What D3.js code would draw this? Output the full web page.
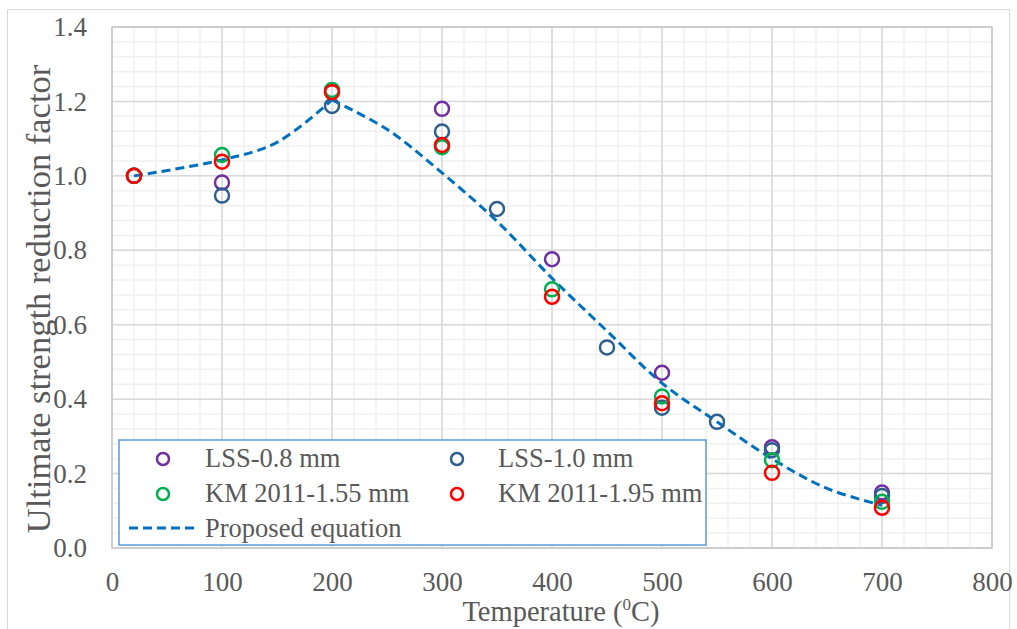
<!DOCTYPE html>
<html>
<head>
<meta charset="utf-8">
<script src="https://cdn.jsdelivr.net/npm/d3@7"></script>
<style>
  body { margin: 0; background: #fff; }
  text { font-family: "Liberation Serif", "Times New Roman", serif; fill: #595959; }
</style>
</head>
<body>
<div class="item"></div>
<script>
// data
var xTicks = [0, 100, 200, 300, 400, 500, 600, 700, 800];
var yTicks = [0, 0.2, 0.4, 0.6, 0.8, 1.0, 1.2, 1.4];

var lss08T = [20, 100, 300, 400, 500, 600, 700];
var lss08V = [1.0, 0.982, 1.18, 0.776, 0.471, 0.271, 0.149];

var lss10T = [20, 100, 200, 300, 350, 450, 500, 550, 600, 700];
var lss10V = [1.0, 0.947, 1.188, 1.119, 0.911, 0.539, 0.377, 0.339, 0.263, 0.140];

var km155T = [20, 100, 200, 300, 400, 500, 600, 700];
var km155V = [1.0, 1.056, 1.231, 1.077, 0.695, 0.407, 0.236, 0.124];

var km195T = [20, 100, 200, 300, 400, 500, 600, 700];
var km195V = [1.0, 1.038, 1.225, 1.083, 0.675, 0.389, 0.202, 0.108];

// proposed equation (dashed)
var eqT = [20, 100, 150, 200, 250, 300, 350, 400, 450, 500, 550, 600, 650, 700];
var eqV = [1.0, 1.043, 1.09, 1.204, 1.125, 1.008, 0.878, 0.725, 0.583, 0.443, 0.339, 0.240, 0.160, 0.115];

var seriesNames = ["LSS-0.8 mm", "LSS-1.0 mm", "KM 2011-1.55 mm", "KM 2011-1.95 mm"];
var seriesColors = ["#7030A0", "#2E5F8E", "#00B050", "#FF0000"];
var seriesT = [lss08T, lss10T, km155T, km195T];
var seriesV = [lss08V, lss10V, km155V, km195V];

var width = 1017, height = 629;
var pLeft = 112, pRight = 992, pTop = 27, pBottom = 548;

var svg = d3.select(".item").append("svg")
    .attr("width", width)
    .attr("height", height);

// outer chart border
svg.append("rect")
    .attr("x", 7.5).attr("y", 9.5)
    .attr("width", 1002).attr("height", 630)
    .style("fill", "#fff")
    .style("stroke", "#D9D9D9");

var x = d3.scaleLinear().domain([0, 800]).range([pLeft, pRight]);
var y = d3.scaleLinear().domain([0, 1.4]).range([pBottom, pTop]);

// minor grid
svg.append("g").selectAll("line")
    .data(d3.range(0, 801, 20))
    .enter().append("line")
    .attr("x1", function(d){ return x(d); }).attr("x2", function(d){ return x(d); })
    .attr("y1", pTop).attr("y2", pBottom)
    .style("stroke", "#F0F0F0").style("stroke-width", 1.5);
svg.append("g").selectAll("line")
    .data(d3.range(0, 1.4001, 0.04))
    .enter().append("line")
    .attr("x1", pLeft).attr("x2", pRight)
    .attr("y1", function(d){ return y(d); }).attr("y2", function(d){ return y(d); })
    .style("stroke", "#F0F0F0").style("stroke-width", 1.5);

// major grid
svg.append("g").selectAll("line")
    .data(xTicks)
    .enter().append("line")
    .attr("x1", function(d){ return x(d); }).attr("x2", function(d){ return x(d); })
    .attr("y1", pTop).attr("y2", pBottom)
    .style("stroke", "#D9D9D9").style("stroke-width", 1.5);
svg.append("g").selectAll("line")
    .data(yTicks)
    .enter().append("line")
    .attr("x1", pLeft).attr("x2", pRight)
    .attr("y1", function(d){ return y(d); }).attr("y2", function(d){ return y(d); })
    .style("stroke", "#D9D9D9").style("stroke-width", 1.5);

// plot border
svg.append("rect")
    .attr("x", pLeft).attr("y", pTop)
    .attr("width", pRight - pLeft).attr("height", pBottom - pTop)
    .style("fill", "none")
    .style("stroke", "#C8C8C8").style("stroke-width", 1.5);

// axes (labels only, Excel style)
var xAxis = d3.axisBottom(x).tickValues(xTicks).tickSize(0).tickPadding(24);
svg.append("g")
    .attr("transform", "translate(0," + pBottom + ")")
    .call(xAxis)
    .call(function(g){ g.select(".domain").remove(); })
    .selectAll("text")
    .style("font-size", "27px")
    .style("font-family", "Liberation Serif")
    .style("fill", "#595959");

var yAxis = d3.axisLeft(y).tickValues(yTicks).tickSize(0).tickPadding(10).tickFormat(d3.format(".1f"));
svg.append("g")
    .attr("transform", "translate(" + (pLeft - 15) + ",0)")
    .call(yAxis)
    .call(function(g){ g.select(".domain").remove(); })
    .selectAll("text")
    .style("font-size", "27px")
    .style("font-family", "Liberation Serif")
    .style("fill", "#595959");

// axis titles
var xt = svg.append("text")
    .attr("x", 561).attr("y", 621)
    .attr("text-anchor", "middle")
    .style("font-size", "28.5px");
xt.append("tspan").text("Temperature (");
xt.append("tspan").attr("dy", -11).style("font-size", "17px").text("0");
xt.append("tspan").attr("dy", 11).text("C)");

svg.append("text")
    .attr("transform", "translate(50,299) rotate(-90)")
    .attr("text-anchor", "middle")
    .style("font-size", "34.5px")
    .text("Ultimate strength reduction factor");

// proposed equation: two smooth pieces meeting at the peak
var peak = eqV.indexOf(d3.max(eqV));
var eqPts = eqT.map(function(t, i){ return [t, eqV[i]]; });
var line = d3.line()
    .x(function(d){ return x(d[0]); })
    .y(function(d){ return y(d[1]); })
    .curve(d3.curveCatmullRom.alpha(0.5));
[eqPts.slice(0, peak + 1), eqPts.slice(peak)].forEach(function(seg){
    svg.append("path")
        .attr("d", line(seg))
        .style("fill", "none")
        .style("stroke", "#0070C0")
        .style("stroke-width", 3)
        .style("stroke-dasharray", "9,5");
});

// markers
seriesT.forEach(function(ts, k){
    svg.append("g").selectAll("circle")
        .data(ts.map(function(t, i){ return [t, seriesV[k][i]]; }))
        .enter().append("circle")
        .attr("cx", function(d){ return x(d[0]); })
        .attr("cy", function(d){ return y(d[1]); })
        .attr("r", 7)
        .style("fill", "none")
        .style("stroke", seriesColors[k])
        .style("stroke-width", 2.5);
});

// legend
var lg = svg.append("g");
lg.append("rect")
    .attr("x", 119).attr("y", 440)
    .attr("width", 587).attr("height", 105)
    .style("fill", "#fff")
    .style("stroke", "#5B9BD5").style("stroke-width", 1.5);

var lgX = [163, 457], lgTx = [205, 498], lgY = [459, 494];
seriesNames.forEach(function(name, k){
    var col = k % 2, row = Math.floor(k / 2);
    lg.append("circle")
        .attr("cx", lgX[col]).attr("cy", lgY[row])
        .attr("r", 6)
        .style("fill", "none")
        .style("stroke", seriesColors[k])
        .style("stroke-width", 2.5);
    lg.append("text")
        .attr("x", lgTx[col]).attr("y", lgY[row] + 8)
        .style("font-size", "26.5px")
        .text(name);
});
lg.append("line")
    .attr("x1", 129).attr("x2", 199)
    .attr("y1", 528).attr("y2", 528)
    .style("stroke", "#0070C0")
    .style("stroke-width", 3)
    .style("stroke-dasharray", "9,5");
lg.append("text")
    .attr("x", 205).attr("y", 537)
    .style("font-size", "26.5px")
    .text("Proposed equation");
</script>
</body>
</html>
